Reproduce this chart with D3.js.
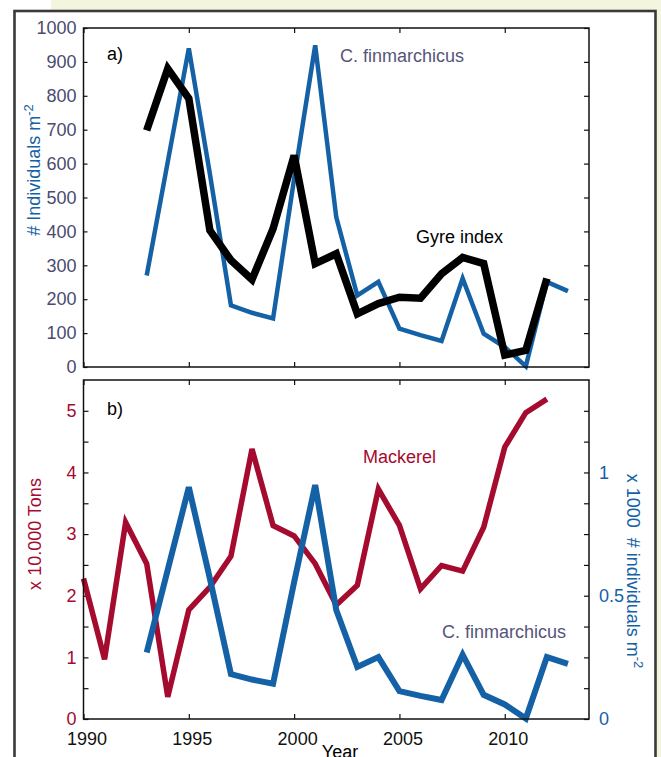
<!DOCTYPE html>
<html>
<head>
<meta charset="utf-8">
<script src="https://cdn.jsdelivr.net/npm/d3@7"></script>
<style>
  body { margin: 0; background: #ffffff; }
  svg { display: block; font-family: "Liberation Sans", Arial, sans-serif; }
</style>
</head>
<body>
<div id="chart"></div>
<script>
// data
const CF_YEARS = [1993, 1994, 1995, 1996, 1997, 1998, 1999, 2000, 2001, 2002, 2003,
  2004, 2005, 2006, 2007, 2008, 2009, 2010, 2011, 2012, 2013];
const CF_VALUES = [270, 605, 940, 570, 182, 160, 143, 555, 949, 442, 211,
  251, 113, 94, 77, 261, 98, 59, 2, 251, 224];

const GYRE_YEARS = [1993, 1994, 1995, 1996, 1997, 1998, 1999, 2000, 2001, 2002,
  2003, 2004, 2005, 2006, 2007, 2008, 2009, 2010, 2011, 2012];
const GYRE_VALUES = [698, 880, 792, 403, 315, 258, 408, 624, 305, 334,
  157, 187, 206, 203, 275, 323, 305, 35, 49, 261];

const MACKEREL_YEARS = [1990, 1991, 1992, 1993, 1994, 1995, 1996, 1997, 1998, 1999,
  2000, 2001, 2002, 2003, 2004, 2005, 2006, 2007, 2008, 2009, 2010, 2011, 2012];
const MACKEREL_VALUES = [2.28, 0.97, 3.19, 2.52, 0.36, 1.77, 2.14, 2.64, 4.38, 3.14,
  2.97, 2.52, 1.85, 2.17, 3.73, 3.14, 2.11, 2.49, 2.40, 3.11, 4.41, 4.97, 5.19];

const X_TICKS = [1990, 1995, 2000, 2005, 2010];
const A_Y_TICKS = [0, 100, 200, 300, 400, 500, 600, 700, 800, 900, 1000];
const B_LEFT_TICKS = [0, 0.5, 1, 1.5, 2, 2.5, 3, 3.5, 4, 4.5, 5];
const B_LEFT_LABELS = [0, 1, 2, 3, 4, 5];
const B_RIGHT_TICKS = [0, 0.125, 0.25, 0.375, 0.5, 0.625, 0.75, 0.875, 1, 1.125, 1.25];
const B_RIGHT_LABELS = [0, 0.5, 1];

const BLUE = "#1561a6";
const RED = "#a50a2f";
const NAVY = "#4b4b6e";

const WIDTH = 661;
const HEIGHT = 757;
const PLOT_LEFT = 83.5;
const PLOT_RIGHT = 589;
const PANEL_A = { TOP: 28, BOTTOM: 367 };
const PANEL_B = { TOP: 380, BOTTOM: 719 };

const SVG = d3.select("#chart").append("svg")
  .attr("width", WIDTH)
  .attr("height", HEIGHT);

// page background + frame
SVG.append("rect").attr("x", 51).attr("y", 0)
  .attr("width", WIDTH - 51).attr("height", HEIGHT).attr("fill", "#f4f5de");
SVG.append("rect").attr("x", 14.5).attr("y", 11)
  .attr("width", 641).attr("height", HEIGHT + 20)
  .attr("fill", "#ffffff").attr("stroke", "#3a3a3a").attr("stroke-width", 2.6);

const X_SCALE = d3.scaleLinear().domain([1990, 2014]).range([PLOT_LEFT, PLOT_RIGHT]);

const styleAxis = (g, color) => {
  g.select(".domain").remove();
  g.selectAll(".tick line").attr("stroke", "#111").attr("stroke-width", 1.2);
  g.selectAll(".tick text")
    .attr("fill", color)
    .style("font-size", "18px")
    .style("font-family", "'Liberation Sans', Arial, sans-serif");
};

// ---------- panel a ----------
const A_Y = d3.scaleLinear().domain([0, 1000]).range([PANEL_A.BOTTOM, PANEL_A.TOP]);

SVG.append("g")
  .attr("transform", "translate(" + PLOT_LEFT + ",0)")
  .call(d3.axisLeft(A_Y).tickValues(A_Y_TICKS).tickSize(-4).tickPadding(7)
    .tickFormat(d3.format("d")))
  .call((g) => styleAxis(g, NAVY));
SVG.append("g")
  .attr("transform", "translate(" + PLOT_RIGHT + ",0)")
  .call(d3.axisRight(A_Y).tickValues(A_Y_TICKS).tickSize(-5).tickFormat(""))
  .call((g) => styleAxis(g, NAVY));
SVG.append("g")
  .attr("transform", "translate(0," + PANEL_A.BOTTOM + ")")
  .call(d3.axisBottom(X_SCALE).tickValues(X_TICKS).tickSize(-5).tickFormat(""))
  .call((g) => styleAxis(g, "#111"));
SVG.append("g")
  .attr("transform", "translate(0," + PANEL_A.TOP + ")")
  .call(d3.axisTop(X_SCALE).tickValues(X_TICKS).tickSize(-5).tickFormat(""))
  .call((g) => styleAxis(g, "#111"));

const CF_DATA = CF_YEARS.map((y, i) => ({ year: y, value: CF_VALUES[i] }));
const GYRE_DATA = GYRE_YEARS.map((y, i) => ({ year: y, value: GYRE_VALUES[i] }));
const MACKEREL_DATA = MACKEREL_YEARS.map((y, i) => ({ year: y, value: MACKEREL_VALUES[i] }));

const A_LINE = d3.line().x((d) => X_SCALE(d.year)).y((d) => A_Y(d.value));

SVG.append("path").datum(CF_DATA)
  .attr("d", A_LINE).attr("fill", "none")
  .attr("stroke", BLUE).attr("stroke-width", 4.5);
SVG.append("path").datum(GYRE_DATA)
  .attr("d", A_LINE).attr("fill", "none")
  .attr("stroke", "#000").attr("stroke-width", 7.5);

SVG.append("rect")
  .attr("x", PLOT_LEFT).attr("y", PANEL_A.TOP)
  .attr("width", PLOT_RIGHT - PLOT_LEFT).attr("height", PANEL_A.BOTTOM - PANEL_A.TOP)
  .attr("fill", "none").attr("stroke", "#111").attr("stroke-width", 1.5);

SVG.append("text").attr("x", 107).attr("y", 60)
  .style("font-size", "18px").text("a)");
SVG.append("text").attr("x", 340).attr("y", 62)
  .attr("fill", "#55557a").style("font-size", "18px").text("C. finmarchicus");
SVG.append("text").attr("x", 416).attr("y", 243)
  .attr("fill", "#000").style("font-size", "18px").text("Gyre index");

const A_LABEL = SVG.append("text")
  .attr("transform", "translate(40,170) rotate(-90)")
  .attr("text-anchor", "middle")
  .attr("fill", BLUE).style("font-size", "18px");
A_LABEL.append("tspan").text("# Individuals m");
A_LABEL.append("tspan").attr("dy", -7).style("font-size", "13px").text("-2");

// ---------- panel b ----------
const B_LEFT = d3.scaleLinear().domain([0, 5.5]).range([PANEL_B.BOTTOM, PANEL_B.TOP]);
const B_RIGHT = d3.scaleLinear().domain([0, 1.375]).range([PANEL_B.BOTTOM, PANEL_B.TOP]);

SVG.append("g")
  .attr("transform", "translate(" + PLOT_LEFT + ",0)")
  .call(d3.axisLeft(B_LEFT).tickValues(B_LEFT_TICKS).tickSize(-5).tickPadding(7)
    .tickFormat((d) => (B_LEFT_LABELS.includes(d) ? d : "")))
  .call((g) => styleAxis(g, RED));
SVG.append("g")
  .attr("transform", "translate(" + PLOT_RIGHT + ",0)")
  .call(d3.axisRight(B_RIGHT).tickValues(B_RIGHT_TICKS).tickSize(-5).tickPadding(10)
    .tickFormat((d) => (B_RIGHT_LABELS.includes(d) ? d : "")))
  .call((g) => styleAxis(g, BLUE));
SVG.append("g")
  .attr("transform", "translate(0," + PANEL_B.BOTTOM + ")")
  .call(d3.axisBottom(X_SCALE).tickValues(X_TICKS).tickSize(-5).tickPadding(13)
    .tickFormat(d3.format("d")))
  .call((g) => styleAxis(g, "#111"))
  .call((g) => g.selectAll(".tick text").attr("dx", 3));
SVG.append("g")
  .attr("transform", "translate(0," + PANEL_B.TOP + ")")
  .call(d3.axisTop(X_SCALE).tickValues(X_TICKS).tickSize(-5).tickFormat(""))
  .call((g) => styleAxis(g, "#111"));

SVG.append("path").datum(MACKEREL_DATA)
  .attr("d", d3.line().x((d) => X_SCALE(d.year)).y((d) => B_LEFT(d.value)))
  .attr("fill", "none").attr("stroke", RED).attr("stroke-width", 5.5);
SVG.append("path").datum(CF_DATA)
  .attr("d", d3.line().x((d) => X_SCALE(d.year)).y((d) => B_RIGHT(d.value / 1000)))
  .attr("fill", "none").attr("stroke", BLUE).attr("stroke-width", 6);

SVG.append("rect")
  .attr("x", PLOT_LEFT).attr("y", PANEL_B.TOP)
  .attr("width", PLOT_RIGHT - PLOT_LEFT).attr("height", PANEL_B.BOTTOM - PANEL_B.TOP)
  .attr("fill", "none").attr("stroke", "#111").attr("stroke-width", 1.5);

SVG.append("text").attr("x", 107).attr("y", 415)
  .style("font-size", "18px").text("b)");
SVG.append("text").attr("x", 363).attr("y", 463)
  .attr("fill", RED).style("font-size", "18px").text("Mackerel");
SVG.append("text").attr("x", 442).attr("y", 638)
  .attr("fill", "#55557a").style("font-size", "18px").text("C. finmarchicus");

SVG.append("text")
  .attr("transform", "translate(41,534) rotate(-90)")
  .attr("text-anchor", "middle")
  .attr("fill", RED).style("font-size", "18px")
  .text("x 10.000 Tons");

const B_RIGHT_LABEL = SVG.append("text")
  .attr("transform", "translate(627,571) rotate(90)")
  .attr("text-anchor", "middle")
  .attr("fill", BLUE).style("font-size", "18px")
  .style("white-space", "pre");
B_RIGHT_LABEL.append("tspan").text("x 1000  # individuals m");
B_RIGHT_LABEL.append("tspan").attr("dy", -7).style("font-size", "13px").text("-2");

SVG.append("text").attr("x", 340).attr("y", 758)
  .attr("text-anchor", "middle")
  .style("font-size", "18px").text("Year");
</script>
</body>
</html>
